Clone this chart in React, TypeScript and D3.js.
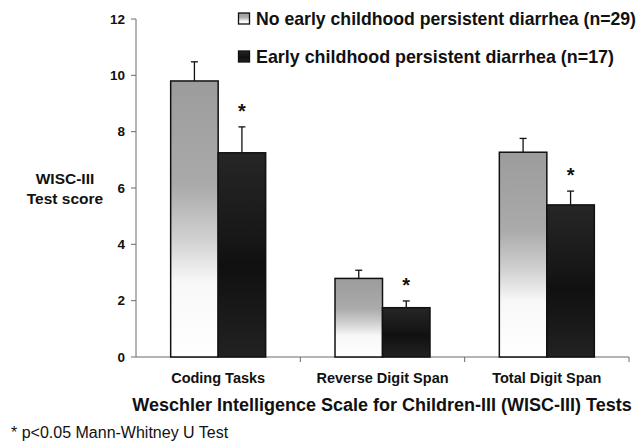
import React from "react";
import * as d3 from "d3";

const categories = ["Coding Tasks", "Reverse Digit Span", "Total Digit Span"];
const seriesNames = [
  "No early childhood persistent diarrhea (n=29)",
  "Early childhood persistent diarrhea (n=17)",
];
const noDiarrheaMeans = [9.8, 2.79, 7.27];
const noDiarrheaErrors = [0.68, 0.29, 0.49];
const diarrheaMeans = [7.25, 1.75, 5.4];
const diarrheaErrors = [0.92, 0.24, 0.49];
const significant = [true, true, true];
const yTicks = [0, 2, 4, 6, 8, 10, 12];

const W = 642;
const H = 442;
const FONT = "'Liberation Sans', Arial, Helvetica, sans-serif";

export default function App() {
  const x = d3.scaleBand<string>().domain(categories).range([136, 629]).padding(0);
  const inner = d3
    .scaleBand<number>()
    .domain([0, 1])
    .range([0, x.bandwidth()])
    .paddingInner(0)
    .paddingOuter(0.73);
  const y = d3.scaleLinear().domain([0, 12]).range([357, 19]);

  const series = [
    { means: noDiarrheaMeans, errs: noDiarrheaErrors, fill: "url(#gradLight)" },
    { means: diarrheaMeans, errs: diarrheaErrors, fill: "url(#gradDark)" },
  ];

  const axisColor = "#6a6a6a";

  return (
    <svg
      width={W}
      height={H}
      style={{ position: "absolute", left: 0, top: 0, background: "#fff" }}
      fontFamily={FONT}
    >
      <defs>
        <linearGradient id="gradLight" x1="0" y1="0" x2="0" y2="1">
          <stop offset="0%" stopColor="#9c9c9c" />
          <stop offset="38%" stopColor="#aaaaaa" />
          <stop offset="57%" stopColor="#d0d0d0" />
          <stop offset="73%" stopColor="#f8f8f8" />
          <stop offset="100%" stopColor="#ffffff" />
        </linearGradient>
        <linearGradient id="gradDark" x1="0" y1="0" x2="0" y2="1">
          <stop offset="0%" stopColor="#262626" />
          <stop offset="40%" stopColor="#181818" />
          <stop offset="55%" stopColor="#101010" />
          <stop offset="100%" stopColor="#222222" />
        </linearGradient>
      </defs>
      <rect x={0} y={0} width={W} height={H} fill="#fff" />

      {/* y axis */}
      <line x1={136} x2={136} y1={y(12)} y2={y(0)} stroke={axisColor} strokeWidth={1} />
      {yTicks.map((t) => (
        <g key={t}>
          <line x1={131} x2={136} y1={y(t)} y2={y(t)} stroke={axisColor} strokeWidth={1} />
          <text
            x={125}
            y={y(t)}
            textAnchor="end"
            dominantBaseline="central"
            fontSize={13.5}
            fontWeight="bold"
            fill="#111"
          >
            {t}
          </text>
        </g>
      ))}

      {/* x axis */}
      <line x1={136} x2={629} y1={y(0)} y2={y(0)} stroke={axisColor} strokeWidth={1} />
      {categories.map((c) => (
        <line
          key={c}
          x1={(x(c) as number) + x.bandwidth()}
          x2={(x(c) as number) + x.bandwidth()}
          y1={y(0)}
          y2={y(0) + 5}
          stroke={axisColor}
          strokeWidth={1}
        />
      ))}

      {/* bars */}
      {categories.map((c, i) =>
        series.map((s, j) => {
          const bx = (x(c) as number) + (inner(j) as number);
          const bw = inner.bandwidth();
          const top = y(s.means[i]);
          const errTop = y(s.means[i] + s.errs[i]);
          const cx = bx + bw / 2;
          return (
            <g key={c + j}>
              <line x1={cx} x2={cx} y1={errTop} y2={top} stroke="#111" strokeWidth={1.3} />
              <line x1={cx - 3.5} x2={cx + 3.5} y1={errTop} y2={errTop} stroke="#111" strokeWidth={1.3} />
              <rect
                x={bx}
                y={top}
                width={bw}
                height={y(0) - top}
                fill={s.fill}
                stroke="#111"
                strokeWidth={1.5}
              />
            </g>
          );
        })
      )}

      {/* significance asterisks */}
      {categories.map((c, i) =>
        significant[i] ? (
          <text
            key={c}
            x={(x(c) as number) + (inner(1) as number) + inner.bandwidth() / 2}
            y={y(diarrheaMeans[i] + diarrheaErrors[i]) - 9}
            textAnchor="middle"
            fontSize={20}
            fontWeight="bold"
            fill="#111"
          >
            *
          </text>
        ) : null
      )}

      {/* category labels */}
      {categories.map((c) => (
        <text
          key={c}
          x={(x(c) as number) + x.bandwidth() / 2}
          y={378}
          textAnchor="middle"
          dominantBaseline="central"
          fontSize={14.5}
          fontWeight="bold"
          fill="#111"
        >
          {c}
        </text>
      ))}

      {/* axis titles */}
      <text
        x={382}
        y={405}
        textAnchor="middle"
        dominantBaseline="central"
        fontSize={18}
        fontWeight="bold"
        fill="#111"
      >
        Weschler Intelligence Scale for Children-III (WISC-III) Tests
      </text>
      <text x={65} y={178} textAnchor="middle" dominantBaseline="central" fontSize={15.5} fontWeight="bold" fill="#111">
        WISC-III
      </text>
      <text x={65} y={198} textAnchor="middle" dominantBaseline="central" fontSize={15.5} fontWeight="bold" fill="#111">
        Test score
      </text>

      {/* legend */}
      {seriesNames.map((n, j) => {
        const ly = j === 0 ? 18.5 : 56.5;
        return (
          <g key={n}>
            <rect
              x={238.5}
              y={ly - 5.5}
              width={11}
              height={11}
              fill={series[j].fill}
              stroke="#111"
              strokeWidth={1.3}
            />
            <text
              x={256}
              y={ly}
              dominantBaseline="central"
              fontSize={17.8}
              fontWeight="bold"
              fill="#111"
              textLength={j === 0 ? 380 : 358}
              lengthAdjust="spacingAndGlyphs"
            >
              {n}
            </text>
          </g>
        );
      })}

      {/* footnote */}
      <text x={11} y={432} dominantBaseline="central" fontSize={16} fill="#111">
        * p&lt;0.05 Mann-Whitney U Test
      </text>
    </svg>
  );
}
